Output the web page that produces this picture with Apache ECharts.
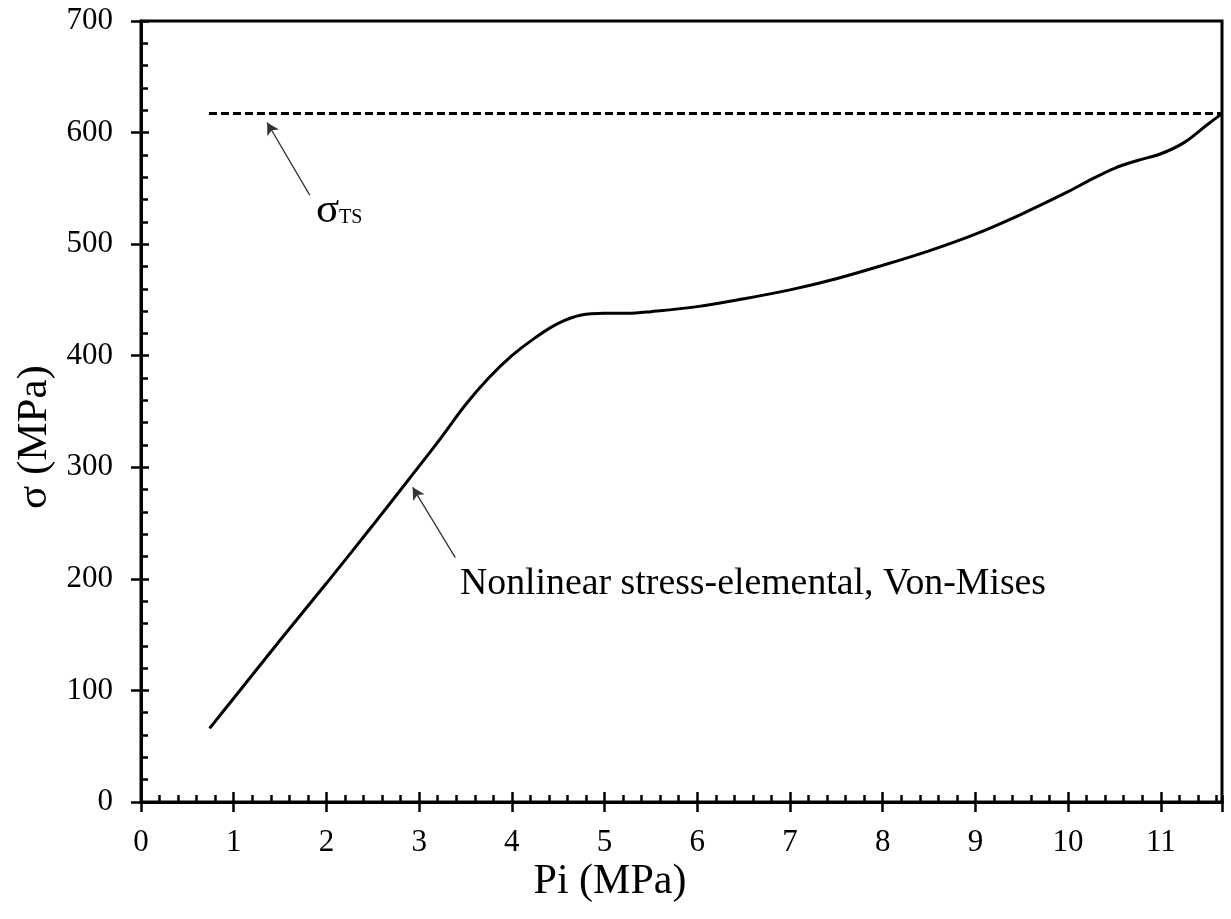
<!DOCTYPE html>
<html>
<head>
<meta charset="utf-8">
<script src="https://cdn.jsdelivr.net/npm/echarts@6/dist/echarts.min.js"></script>
<style>
html,body{margin:0;padding:0;background:#fff;}
#chart{width:1231px;height:919px;}
</style>
</head>
<body>
<div id="chart"></div>
<script>
// Internal pressure Pi (MPa)
const piValues = [0.74, 1.0, 1.5, 2.0, 2.5, 3.0, 3.25, 3.5, 3.75, 4.0, 4.25, 4.5, 4.75, 5.0, 5.25, 5.5, 6.0, 6.5, 7.0, 7.5, 8.0, 8.5, 9.0, 9.5, 10.0, 10.25, 10.5, 10.75, 11.0, 11.25, 11.5, 11.66];
// Von-Mises stress (MPa)
const stressValues = [66, 93, 145, 196, 248, 301, 328, 356, 380, 400, 416, 429, 436.5, 438, 438, 439.5, 444, 451, 459, 469, 481, 494, 509, 527, 547, 558, 568, 575, 581, 591, 607, 617];
// Tensile strength line
const tsX = [0.733, 11.66];
const tsY = [617, 617];
// Annotation arrows [tailX, tailY, tipX, tipY]
const arrowTS = [1.82, 544, 1.36, 609];
const arrowCurve = [3.39, 219, 2.93, 282];
const xTicks = {min: 0, max: 11.66, interval: 1, minor: 0.2};
const yTicks = {min: 0, max: 700, interval: 100, minor: 20};

const FONT = 'Liberation Serif';
const chart = echarts.init(document.getElementById('chart'));

function xy(xs, ys) { return xs.map((x, i) => [x, ys[i]]); }

function mkAxis(extra, isX) {
  const t = isX ? xTicks : yTicks;
  return Object.assign({
    type: 'value',
    position: isX ? 'bottom' : 'left',
    min: t.min, max: t.max, interval: t.interval,
    splitLine: {show: false},
    axisLine: {show: false},
    axisLabel: {show: false},
    axisTick: {show: false}
  }, extra);
}

const option = {
  animation: false,
  backgroundColor: '#fff',
  grid: {left: 141, right: 9, top: 21, bottom: 117, show: true, borderColor: '#000', borderWidth: 3, containLabel: false},
  xAxis: [
    mkAxis({
      axisLine: {show: true, lineStyle: {color: '#000', width: 3}},
      axisTick: {show: true, inside: true, length: 10, lineStyle: {color: '#000', width: 2.5}},
      axisLabel: {show: true, color: '#000', fontFamily: FONT, fontSize: 31, margin: 25, showMaxLabel: false}
    }, true),
    mkAxis({axisTick: {show: true, inside: false, length: 10, lineStyle: {color: '#000', width: 2.5}}}, true),
    mkAxis({interval: xTicks.minor, axisTick: {show: true, inside: true, length: 7, lineStyle: {color: '#000', width: 2.5}}}, true)
  ],
  yAxis: [
    mkAxis({
      axisLine: {show: true, lineStyle: {color: '#000', width: 3}},
      axisTick: {show: true, inside: true, length: 8, lineStyle: {color: '#000', width: 2.5}},
      axisLabel: {show: true, color: '#000', fontFamily: FONT, fontSize: 31, margin: 28}
    }, false),
    mkAxis({axisTick: {show: true, inside: false, length: 10, lineStyle: {color: '#000', width: 2.5}}}, false),
    mkAxis({interval: yTicks.minor, axisTick: {show: true, inside: true, length: 7, lineStyle: {color: '#000', width: 2.5}}}, false)
  ],
  series: [
    {
      type: 'line',
      name: 'Nonlinear stress-elemental, Von-Mises',
      data: xy(piValues, stressValues),
      smooth: 0.35,
      showSymbol: false,
      lineStyle: {color: '#000', width: 3},
      silent: true,
      markLine: {
        silent: true,
        symbol: ['none', 'arrow'],
        symbolSize: [10, 12],
        label: {show: false},
        lineStyle: {color: '#333', width: 1.3, type: 'solid'},
        data: [
          [{coord: [arrowTS[0], arrowTS[1]]}, {coord: [arrowTS[2], arrowTS[3]]}],
          [{coord: [arrowCurve[0], arrowCurve[1]]}, {coord: [arrowCurve[2], arrowCurve[3]]}]
        ]
      }
    },
    {
      type: 'line',
      name: 'σTS',
      data: xy(tsX, tsY),
      showSymbol: false,
      lineStyle: {color: '#000', width: 3, type: [8, 4]},
      silent: true
    }
  ],
  graphic: [
    {type: 'text', x: 610, y: 882, style: {text: 'Pi (MPa)', font: '42px "Liberation Serif"', fill: '#000', align: 'center', verticalAlign: 'middle'}},
    {type: 'text', x: 35, y: 437, rotation: Math.PI / 2, style: {text: 'σ (MPa)', font: '43px "Liberation Serif"', fill: '#000', align: 'center', verticalAlign: 'middle'}},
    {type: 'text', x: 316, y: 211, style: {text: 'σ', font: '43px "Liberation Serif"', fill: '#000', align: 'left', verticalAlign: 'middle'}},
    {type: 'text', x: 339, y: 218, style: {text: 'TS', font: '20px "Liberation Serif"', fill: '#000', align: 'left', verticalAlign: 'middle'}},
    {type: 'text', x: 460, y: 584, style: {text: 'Nonlinear stress-elemental, Von-Mises', font: '37.8px "Liberation Serif"', fill: '#000', align: 'left', verticalAlign: 'middle'}}
  ]
};
chart.setOption(option);
</script>
</body>
</html>
